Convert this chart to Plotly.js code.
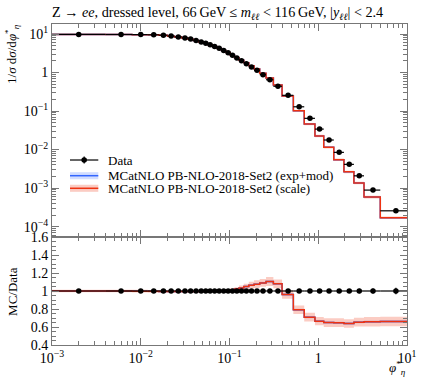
<!DOCTYPE html>
<html>
<head>
<meta charset="utf-8">
<script src="https://cdn.plot.ly/plotly-3.0.1.min.js"></script>
<style>
  html, body { margin: 0; padding: 0; background: #fff; }
  #plot { width: 421px; height: 380px; }
</style>
</head>
<body>
<div id="plot"></div>
<script>
// phi*_eta bin edges and data (normalised cross section)
var binEdges = [0, 0.004, 0.008, 0.012, 0.016, 0.020, 0.024, 0.029, 0.034, 0.039, 0.045, 0.051, 0.057, 0.064, 0.072, 0.081, 0.091, 0.102, 0.114, 0.128, 0.145, 0.165, 0.189, 0.219, 0.258, 0.312, 0.391, 0.524, 0.695, 0.918, 1.153, 1.496, 1.947, 2.522, 3.277, 5, 10];

var dataVals = [9.75, 9.72, 9.66, 9.55, 9.3, 8.85, 8.4, 7.9, 7.4, 6.8, 6.25, 5.75, 5.25, 4.75, 4.25, 3.75, 3.28, 2.8, 2.38, 2.02, 1.7, 1.4, 1.14, 0.88, 0.65, 0.44, 0.256, 0.129, 0.0647, 0.034, 0.0177, 0.00846, 0.00413, 0.00208, 0.000887, 0.000257];
var dataRelErr = [0.006, 0.006, 0.006, 0.006, 0.006, 0.006, 0.006, 0.006, 0.006, 0.006, 0.006, 0.006, 0.006, 0.006, 0.006, 0.006, 0.006, 0.006, 0.006, 0.006, 0.006, 0.006, 0.007, 0.007, 0.008, 0.008, 0.009, 0.01, 0.012, 0.014, 0.016, 0.018, 0.02, 0.024, 0.028, 0.035];

// MCatNLO PB-NLO-2018-Set2 predictions
var mcScale = [9.75, 9.72, 9.64, 9.52, 9.26, 8.81, 8.36, 7.86, 7.36, 6.77, 6.22, 5.73, 5.24, 4.75, 4.25, 3.76, 3.30, 2.83, 2.43, 2.09, 1.785, 1.49, 1.226, 0.959, 0.718, 0.475, 0.246, 0.102, 0.0459, 0.0226, 0.0115, 0.00548, 0.00264, 0.00136, 0.000584, 0.00017];
var mcScaleRelErr = [0.015, 0.015, 0.015, 0.015, 0.015, 0.015, 0.015, 0.015, 0.015, 0.015, 0.015, 0.015, 0.015, 0.015, 0.015, 0.015, 0.015, 0.02, 0.02, 0.025, 0.03, 0.035, 0.04, 0.04, 0.045, 0.045, 0.05, 0.06, 0.07, 0.07, 0.075, 0.075, 0.075, 0.075, 0.08, 0.08];
var mcExpMod = [9.75, 9.72, 9.64, 9.52, 9.26, 8.81, 8.36, 7.86, 7.36, 6.77, 6.22, 5.73, 5.24, 4.75, 4.25, 3.76, 3.30, 2.83, 2.43, 2.09, 1.785, 1.49, 1.226, 0.959, 0.718, 0.475, 0.246, 0.102, 0.0459, 0.0226, 0.0115, 0.00548, 0.00264, 0.00136, 0.000584, 0.00017];
var mcExpModRelErr = [0.008, 0.008, 0.008, 0.008, 0.008, 0.008, 0.008, 0.008, 0.008, 0.008, 0.008, 0.008, 0.008, 0.008, 0.008, 0.008, 0.008, 0.01, 0.01, 0.01, 0.01, 0.01, 0.012, 0.012, 0.012, 0.012, 0.014, 0.015, 0.016, 0.016, 0.018, 0.018, 0.02, 0.02, 0.02, 0.02];

var xTickVals = [0.001, 0.01, 0.1, 1, 10];
var xTickText = ['10<sup>\u22123</sup>', '10<sup>\u22122</sup>', '10<sup>\u22121</sup>', '1', '10<sup>1</sup>'];
var yTickVals = [0.0001, 0.001, 0.01, 0.1, 1, 10];
var yTickText = ['10<sup>\u22124</sup>', '10<sup>\u22123</sup>', '10<sup>\u22122</sup>', '10<sup>\u22121</sup>', '1', '10<sup>1</sup>'];

var red = '#EE3311';
var blue = '#3366FF';
var fontFam = "'Liberation Serif', 'DejaVu Serif', serif";

// helpers
var edgesX = binEdges.map(e => Math.max(e, 1e-4));
var centers = [], xLo = [], xHi = [];
for (var i = 0; i < dataVals.length; i++) {
    var lo = binEdges[i], hi = binEdges[i + 1];
    var c = (lo + hi) / 2;
    centers.push(c);
    xLo.push(c - Math.max(lo, 1e-4));
    xHi.push(hi - c);
}

function stepY(vals) { return vals.concat([vals[vals.length - 1]]); }
function scaled(vals, rel, sign) { return vals.map((v, i) => v * (1 + sign * rel[i])); }

var ratioScale = mcScale.map((v, i) => v / dataVals[i]);
var ratioExpMod = mcExpMod.map((v, i) => v / dataVals[i]);
var ratioData = dataVals.map((v, i) => v / dataVals[i]);

function band(vals, rel, color, xa, ya) {
    return [
        {x: edgesX, y: stepY(scaled(vals, rel, 1)), xaxis: xa, yaxis: ya, mode: 'lines',
         line: {shape: 'hv', width: 0}, hoverinfo: 'skip', showlegend: false},
        {x: edgesX, y: stepY(scaled(vals, rel, -1)), xaxis: xa, yaxis: ya, mode: 'lines',
         line: {shape: 'hv', width: 0}, fill: 'tonexty', fillcolor: color, hoverinfo: 'skip', showlegend: false}
    ];
}
function stepLine(vals, color, xa, ya) {
    return {x: edgesX, y: stepY(vals), xaxis: xa, yaxis: ya, mode: 'lines',
            line: {shape: 'hv', width: 1.5, color: color}, showlegend: false};
}
function dataPts(vals, xa, ya) {
    return {x: centers, y: vals, xaxis: xa, yaxis: ya, mode: 'markers', showlegend: false,
            marker: {color: 'black', size: 5.5},
            error_x: {type: 'data', symmetric: false, array: xHi, arrayminus: xLo, width: 0, thickness: 1.2, color: 'black'},
            error_y: {type: 'data', array: vals.map((v, i) => v * dataRelErr[i]), width: 0, thickness: 1.2, color: 'black'}};
}

var traces = []
    .concat(band(mcExpMod, mcExpModRelErr, 'rgba(51,102,255,0.22)', 'x2', 'y2'))
    .concat(band(mcScale, mcScaleRelErr, 'rgba(238,51,17,0.25)', 'x2', 'y2'))
    .concat([stepLine(mcExpMod, blue, 'x2', 'y2'), stepLine(mcScale, red, 'x2', 'y2'), dataPts(dataVals, 'x2', 'y2')])
    .concat(band(ratioExpMod, mcExpModRelErr, 'rgba(51,102,255,0.22)', 'x', 'y'))
    .concat(band(ratioScale, mcScaleRelErr, 'rgba(238,51,17,0.25)', 'x', 'y'))
    .concat([stepLine(ratioExpMod, blue, 'x', 'y'), stepLine(ratioScale, red, 'x', 'y'), dataPts(ratioData, 'x', 'y')]);

var minorLog = [];
for (var k = -5; k <= 1; k++) {
    for (var m = 2; m <= 9; m++) minorLog.push(m * Math.pow(10, k));
}

var split = 108 / 321;
var frame = '#777';
var tickFont = {family: fontFam, size: 14, color: 'black'};

var axisCommon = {
    showline: true, linecolor: frame, linewidth: 1, mirror: 'ticks',
    ticks: 'inside', ticklen: 7, tickcolor: frame, tickwidth: 1,
    showgrid: false, zeroline: false, tickfont: tickFont
};

var layout = {
    width: 421, height: 380,
    margin: {l: 52, r: 14, t: 24, b: 35},
    paper_bgcolor: 'white', plot_bgcolor: 'white',
    font: {family: fontFam, size: 13, color: 'black'},
    showlegend: false,
    title: {
        text: 'Z \u2192 <i>ee</i>, dressed level, 66\u2009GeV \u2264 <i>m</i><sub><i>\u2113\u2113</i></sub> &lt; 116\u2009GeV, |<i>y</i><sub><i>\u2113\u2113</i></sub>| &lt; 2.4',
        font: {family: fontFam, size: 14.2, color: 'black'},
        xref: 'paper', x: 0, xanchor: 'left',
        yref: 'container', y: 1 - 12 / 380, yanchor: 'middle'
    },
    xaxis: Object.assign({}, axisCommon, {
        type: 'log', range: [-3, 1], domain: [0, 1], anchor: 'y',
        tickmode: 'array', tickvals: xTickVals, ticktext: xTickText,
        minor: {tickmode: 'array', tickvals: minorLog, ticks: 'inside', ticklen: 4, tickcolor: frame}
    }),
    xaxis2: Object.assign({}, axisCommon, {
        type: 'log', range: [-3, 1], domain: [0, 1], anchor: 'y2', matches: 'x',
        tickmode: 'array', tickvals: xTickVals, showticklabels: false,
        minor: {tickmode: 'array', tickvals: minorLog, ticks: 'inside', ticklen: 4, tickcolor: frame}
    }),
    yaxis: Object.assign({}, axisCommon, {
        range: [0.4, 1.6], domain: [0, split], anchor: 'x',
        tickmode: 'linear', tick0: 0.4, dtick: 0.2,
        minor: {dtick: 0.05, ticks: 'inside', ticklen: 4, tickcolor: frame}
    }),
    yaxis2: Object.assign({}, axisCommon, {
        type: 'log', range: [-4.27, 1.26], domain: [split, 1], anchor: 'x2',
        tickmode: 'array', tickvals: yTickVals, ticktext: yTickText,
        minor: {tickmode: 'array', tickvals: minorLog, ticks: 'inside', ticklen: 4, tickcolor: frame}
    }),
    annotations: [
        {text: '1/<i>\u03c3</i> d<i>\u03c3</i>/d<i>\u03c6</i><sup>*</sup><sub><i>\u03b7</i></sub>', textangle: -90,
         xref: 'paper', yref: 'paper', x: -0.113, y: 1.006, xanchor: 'center', yanchor: 'top', showarrow: false,
         font: {family: fontFam, size: 13}},
        {text: 'MC/Data', textangle: -90,
         xref: 'paper', yref: 'paper', x: -0.113, y: split / 2, xanchor: 'center', yanchor: 'middle', showarrow: false,
         font: {family: fontFam, size: 13}},
        {text: '<i>\u03c6</i><sup>*</sup><sub><i>\u03b7</i></sub>',
         xref: 'paper', yref: 'paper', x: 0.972, y: -0.106, xanchor: 'center', yanchor: 'bottom', showarrow: false,
         font: {family: fontFam, size: 13}},
        // legend text
        {text: 'Data', xref: 'paper', yref: 'paper', x: 0.1513, y: 0.5763, xanchor: 'left', yanchor: 'middle', showarrow: false,
         font: {family: fontFam, size: 13}},
        {text: 'MCatNLO PB-NLO-2018-Set2 (exp+mod)', xref: 'paper', yref: 'paper', x: 0.1513, y: 0.5274, xanchor: 'left', yanchor: 'middle', showarrow: false,
         font: {family: fontFam, size: 13}},
        {text: 'MCatNLO PB-NLO-2018-Set2 (scale)', xref: 'paper', yref: 'paper', x: 0.1513, y: 0.4882, xanchor: 'left', yanchor: 'middle', showarrow: false,
         font: {family: fontFam, size: 13}}
    ],
    // legend symbols
    shapes: [
        {type: 'line', xref: 'paper', yref: 'paper', x0: 0.0507, x1: 0.1304, y0: 0.5763, y1: 0.5763, line: {color: 'black', width: 1.2}},
        {type: 'line', xref: 'paper', yref: 'paper', x0: 0.0906, x1: 0.0906, y0: 0.5763 - 0.011, y1: 0.5763 + 0.011, line: {color: 'black', width: 1.2}},
        {type: 'circle', xref: 'paper', yref: 'paper', x0: 0.0906 - 0.0078, x1: 0.0906 + 0.0078, y0: 0.5763 - 0.0086, y1: 0.5763 + 0.0086, fillcolor: 'black', line: {width: 0}},
        {type: 'rect', xref: 'paper', yref: 'paper', x0: 0.0507, x1: 0.1304, y0: 0.5274 - 0.011, y1: 0.5274 + 0.011, fillcolor: 'rgba(51,102,255,0.22)', line: {width: 0}},
        {type: 'line', xref: 'paper', yref: 'paper', x0: 0.0507, x1: 0.1304, y0: 0.5274, y1: 0.5274, line: {color: blue, width: 1.5}},
        {type: 'rect', xref: 'paper', yref: 'paper', x0: 0.0507, x1: 0.1304, y0: 0.4882 - 0.011, y1: 0.4882 + 0.011, fillcolor: 'rgba(238,51,17,0.25)', line: {width: 0}},
        {type: 'line', xref: 'paper', yref: 'paper', x0: 0.0507, x1: 0.1304, y0: 0.4882, y1: 0.4882, line: {color: red, width: 1.5}}
    ]
};

Plotly.newPlot('plot', traces, layout, {staticPlot: true, displayModeBar: false});
</script>
</body>
</html>
